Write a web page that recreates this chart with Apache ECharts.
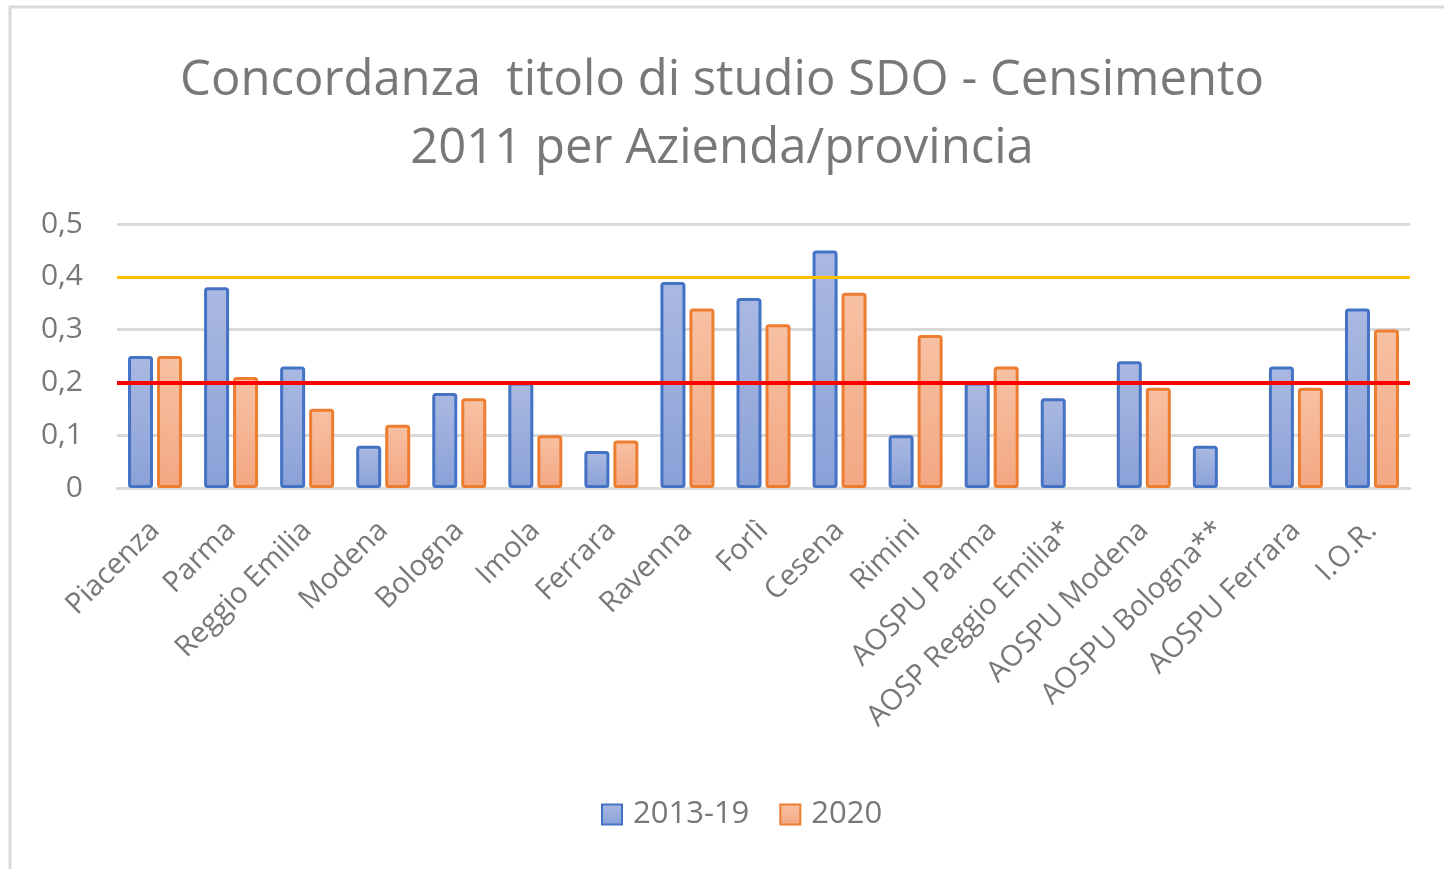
<!DOCTYPE html>
<html>
<head>
<meta charset="utf-8">
<script src="https://cdn.jsdelivr.net/npm/echarts@6/dist/echarts.min.js"></script>
<style>
  html, body { margin: 0; padding: 0; background: #fff; }
  #chart { width: 1444px; height: 869px; }
</style>
</head>
<body>
<div id="chart"></div>
<script>
const categories = ['Piacenza', 'Parma', 'Reggio Emilia', 'Modena', 'Bologna', 'Imola', 'Ferrara',
  'Ravenna', 'Forlì', 'Cesena', 'Rimini', 'AOSPU Parma', 'AOSP Reggio Emilia*', 'AOSPU Modena',
  'AOSPU Bologna**', 'AOSPU Ferrara', 'I.O.R.']
const values2013 = [0.25, 0.38, 0.23, 0.08, 0.18, 0.20, 0.07, 0.39, 0.36, 0.45, 0.10, 0.20, 0.17, 0.24, 0.08, 0.23, 0.34]
const values2020 = [0.25, 0.21, 0.15, 0.12, 0.17, 0.10, 0.09, 0.34, 0.31, 0.37, 0.29, 0.23, null, 0.19, null, 0.19, 0.30]
const thresholdHigh = 0.4
const thresholdLow = 0.2

const FONT = '"Open Sans", "Noto Sans", sans-serif'
const TXT = '#787878'

const chart = echarts.init(document.getElementById('chart'))

const barStyle = (top, bottom, border) => ({
  color: new echarts.graphic.LinearGradient(0, 0, 0, 1, [
    { offset: 0, color: top },
    { offset: 1, color: bottom }
  ]),
  borderColor: border,
  borderWidth: 3,
  borderRadius: 2
})

chart.setOption({
  backgroundColor: '#fff',
  animation: false,
  graphic: [{
    type: 'rect',
    shape: { x: 10, y: 7, width: 1460, height: 900 },
    style: { fill: 'none', stroke: '#d9d9d9', lineWidth: 3 },
    silent: true
  }],
  title: {
    text: 'Concordanza  titolo di studio SDO - Censimento\n2011 per Azienda/provincia',
    left: 'center',
    top: 42,
    textStyle: {
      fontFamily: FONT,
      fontSize: 49,
      fontWeight: 'normal',
      color: TXT,
      lineHeight: 68
    }
  },
  legend: {
    bottom: 34,
    left: 596,
    icon: 'rect',
    itemWidth: 20,
    itemHeight: 20,
    itemGap: 30,
    textStyle: { fontFamily: FONT, fontSize: 31, color: TXT, padding: [0, 0, 0, 6] },
    data: ['2013-19', '2020']
  },
  grid: { left: 117, right: 34, top: 224, bottom: 381 },
  xAxis: {
    type: 'category',
    data: categories,
    axisLine: { lineStyle: { color: '#d9d9d9', width: 3 } },
    axisTick: { show: false },
    axisLabel: {
      interval: 0,
      rotate: 45,
      margin: 38,
      fontFamily: FONT,
      fontSize: 29,
      color: TXT
    }
  },
  yAxis: {
    type: 'value',
    min: 0,
    max: 0.5,
    interval: 0.1,
    axisLine: { show: false },
    axisTick: { show: false },
    splitLine: { lineStyle: { color: '#d9d9d9', width: 3 } },
    axisLabel: {
      margin: 34,
      fontFamily: FONT,
      fontSize: 30,
      color: TXT,
      formatter: v => (v === 0 ? '0' : v.toFixed(1).replace('.', ','))
    }
  },
  series: [
    {
      name: '2013-19',
      type: 'bar',
      data: values2013,
      barWidth: 25,
      barGap: '16%',
      itemStyle: barStyle('#aab9e1', '#8aa1d8', '#4472c4'),
      markLine: {
        silent: true,
        symbol: 'none',
        label: { show: false },
        z: 10,
        data: [
          { yAxis: thresholdHigh, lineStyle: { color: '#ffc000', width: 3, type: 'solid' } },
          { yAxis: thresholdLow, lineStyle: { color: '#ff0000', width: 4, type: 'solid' } }
        ]
      }
    },
    {
      name: '2020',
      type: 'bar',
      data: values2020,
      barWidth: 25,
      itemStyle: barStyle('#f7c1a3', '#f3a782', '#ed7d31')
    }
  ]
})
</script>
</body>
</html>
